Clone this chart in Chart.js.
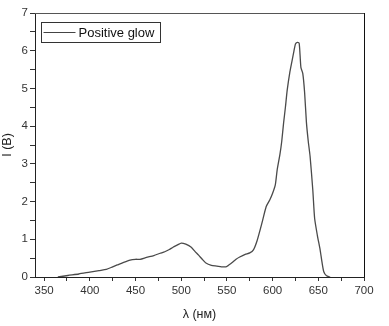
<!DOCTYPE html>
<html>
<head>
<meta charset="utf-8">
<script src="https://cdn.jsdelivr.net/npm/chart.js@4.4.0/dist/chart.umd.min.js"></script>
<style>
  html, body { margin: 0; padding: 0; background: #fff; }
  #wrap { width: 389px; height: 326px; }
</style>
</head>
<body>
<div id="wrap"><canvas id="spectrum" width="389" height="326"></canvas></div>
<script>
// wavelength (nm) and intensity
var wavelength = [365, 376, 388, 400, 410, 418, 425, 430, 437, 444, 450, 455, 462, 470, 477, 482, 487, 491, 496, 500, 505, 511, 515, 519, 523, 527, 533, 539, 544, 549, 555, 560, 564, 570, 575, 579, 583, 588, 593, 597, 600, 603, 605, 608, 610, 612, 614, 616, 619, 621, 623, 625, 627, 629, 630, 631, 633, 635, 637, 639, 641, 644, 646, 649, 652, 654, 656, 659, 663];
var intensity = [0, 0.04, 0.08, 0.13, 0.17, 0.2, 0.27, 0.32, 0.39, 0.45, 0.47, 0.47, 0.52, 0.57, 0.63, 0.67, 0.73, 0.79, 0.85, 0.9, 0.87, 0.79, 0.68, 0.58, 0.47, 0.37, 0.31, 0.29, 0.27, 0.27, 0.37, 0.47, 0.53, 0.6, 0.64, 0.72, 0.96, 1.4, 1.87, 2.05, 2.22, 2.45, 2.84, 3.25, 3.6, 4.08, 4.5, 4.96, 5.45, 5.7, 5.95, 6.18, 6.22, 6.2, 5.9, 5.55, 5.4, 4.9, 4.1, 3.6, 3.2, 2.3, 1.55, 1.1, 0.72, 0.4, 0.14, 0.03, 0];
var xTicks = [350, 375, 400, 425, 450, 475, 500, 525, 550, 575, 600, 625, 650, 675, 700];
var seriesName = 'Positive glow';
var xTitle = 'λ (нм)';
var yTitle = 'I (B)';

var points = wavelength.map(function (w, i) { return { x: w, y: intensity[i] }; });

// frame round the plot and the boxed legend in the top left corner
var frameAndLegend = {
  id: 'frameAndLegend',
  afterDraw: function (chart) {
    var c = chart.ctx, a = chart.chartArea;
    c.save();
    c.lineWidth = 1;
    c.strokeStyle = '#555';
    c.beginPath();
    c.moveTo(a.left, a.top + 0.5);
    c.lineTo(a.right + 0.5, a.top + 0.5);
    c.stroke();
    c.strokeStyle = '#111';
    c.beginPath();
    c.moveTo(a.right + 0.5, a.top);
    c.lineTo(a.right + 0.5, a.bottom);
    c.stroke();

    // legend
    var bx = a.left + 6.5, by = a.top + 9.5, bw = 119, bh = 20;
    c.strokeStyle = '#333';
    c.strokeRect(bx, by, bw, bh);
    c.strokeStyle = '#444';
    c.beginPath();
    c.moveTo(bx + 2, by + bh / 2);
    c.lineTo(bx + 34, by + bh / 2);
    c.stroke();
    c.fillStyle = '#111';
    c.font = '13px "Liberation Sans", Arial, sans-serif';
    c.textBaseline = 'middle';
    c.fillText(seriesName, bx + 37, by + bh / 2 + 0.5);
    c.restore();
  }
};

var ctx = document.getElementById('spectrum').getContext('2d');
var spectrumChart = new Chart(ctx, {
  type: 'line',
  data: {
    datasets: [
      {
        label: seriesName,
        data: points,
        borderColor: '#4a4a4a',
        borderWidth: 1.3,
        pointRadius: 0,
        tension: 0.2,
        fill: false
      }
    ]
  },
  options: {
    responsive: false,
    animation: false,
    layout: { padding: { left: 0, right: 25, top: 13, bottom: 0 } },
    scales: {
      x: {
        type: 'linear',
        min: 340,
        max: 700,
        afterFit: function (s) { s.height = 49; },
        afterBuildTicks: function (s) {
          s.ticks = xTicks.map(function (v) { return { value: v }; });
        },
        border: { color: '#222', width: 1 },
        grid: { drawOnChartArea: false, tickLength: 4, color: '#333' },
        ticks: {
          autoSkip: false,
          maxRotation: 0,
          padding: 3,
          color: '#333',
          font: { family: '"Liberation Sans", Arial, sans-serif', size: 11.5 },
          callback: function (v) { return v % 50 === 0 ? v : ''; }
        },
        title: {
          display: true,
          text: xTitle,
          color: '#222',
          font: { family: '"Liberation Sans", Arial, sans-serif', size: 12.5 },
          padding: { top: 6, bottom: 4 }
        }
      },
      y: {
        min: 0,
        max: 7,
        afterFit: function (s) { s.width = 35; },
        border: { color: '#222', width: 1 },
        grid: { drawOnChartArea: false, tickLength: 5, color: '#333' },
        ticks: {
          stepSize: 0.5,
          autoSkip: false,
          padding: 2,
          color: '#333',
          font: { family: '"Liberation Sans", Arial, sans-serif', size: 11.5 },
          callback: function (v) { return Number.isInteger(v) ? v : ''; }
        },
        title: {
          display: true,
          text: yTitle,
          color: '#222',
          font: { family: '"Liberation Sans", Arial, sans-serif', size: 12.5 },
          padding: { top: 0, bottom: 0 }
        }
      }
    },
    plugins: {
      legend: { display: false },
      tooltip: { enabled: false }
    }
  },
  plugins: [frameAndLegend]
});
</script>
</body>
</html>
